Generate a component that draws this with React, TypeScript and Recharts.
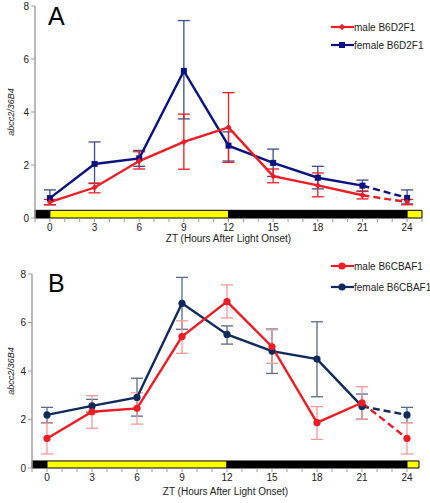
import React from 'react';
import { ComposedChart, Line, XAxis, YAxis, ErrorBar, ReferenceArea } from 'recharts';

// sampling times (ZT hours); 24 repeats the ZT0 sample
const hours = [0, 3, 6, 9, 12, 15, 18, 21, 24];
const hourTicks = [-1, 0, 1, 2, 3, 4, 5, 6, 7, 8, 9, 10, 11, 12, 13, 14, 15, 16, 17, 18, 19, 20, 21, 22, 23, 24, 25];
const yTicks = [0, 2, 4, 6, 8];

// light/dark schedule drawn as the bar along the x axis
const lightPhases = [
  { from: -1, to: 0, light: false },
  { from: 0, to: 12, light: true },
  { from: 12, to: 24, light: false },
  { from: 24, to: 25, light: true },
];

// panel A: B6D2F1
const maleD2Mean = [0.6, 1.15, 2.15, 2.87, 3.42, 1.58, 1.23, 0.86, 0.6];
const maleD2Low = [0.5, 0.95, 1.85, 1.84, 2.1, 1.33, 0.8, 0.72, 0.5];
const maleD2High = [0.7, 1.32, 2.5, 3.92, 4.73, 1.85, 1.7, 1.0, 0.7];
const femaleD2Mean = [0.75, 2.04, 2.25, 5.55, 2.73, 2.08, 1.52, 1.22, 0.76];
const femaleD2Low = [0.5, 1.3, 1.95, 3.74, 2.15, 1.57, 1.1, 1.02, 0.53];
const femaleD2High = [1.06, 2.87, 2.55, 7.45, 3.25, 2.6, 1.95, 1.43, 1.06];

// panel B: B6CBAF1
const maleCBMean = [1.22, 2.32, 2.46, 5.42, 6.86, 5.0, 1.87, 2.69, 1.22];
const maleCBLow = [0.58, 1.64, 1.81, 4.73, 6.19, 4.32, 1.18, 2.0, 0.58];
const maleCBHigh = [1.85, 2.98, 3.1, 6.07, 7.55, 5.7, 2.53, 3.35, 1.87];
const femaleCBMean = [2.19, 2.56, 2.91, 6.79, 5.51, 4.82, 4.49, 2.54, 2.19];
const femaleCBLow = [1.87, 2.3, 2.14, 5.72, 5.11, 3.9, 2.94, 2.01, 1.87];
const femaleCBHigh = [2.5, 2.83, 3.7, 7.86, 5.86, 5.73, 6.03, 3.05, 2.5];

const FONT = '"Liberation Sans", Arial, sans-serif';
const RED = '#ee1c24';

// last segment (21 -> 24) is dashed, so split each series in two
const buildRows = (mMean, mLow, mHigh, fMean, fLow, fHigh) => {
  const last = hours.length - 1;
  return hours.map((zt, i) => ({
    zt,
    m: mMean[i],
    mErr: [mMean[i] - mLow[i], mHigh[i] - mMean[i]],
    mSolid: i < last ? mMean[i] : null,
    mDash: i >= last - 1 ? mMean[i] : null,
    f: fMean[i],
    fErr: [fMean[i] - fLow[i], fHigh[i] - fMean[i]],
    fSolid: i < last ? fMean[i] : null,
    fDash: i >= last - 1 ? fMean[i] : null,
  }));
};

const Marker = ({ cx, cy, shape, color }) => {
  if (cx == null || cy == null) return <g />;
  if (shape === 'diamond') {
    return <path d={`M${cx},${cy - 3.2}L${cx + 3},${cy}L${cx},${cy + 3.2}L${cx - 3},${cy}Z`} fill={color} />;
  }
  if (shape === 'square') {
    return <rect x={cx - 3} y={cy - 3} width={6} height={6} fill={color} />;
  }
  return <circle cx={cx} cy={cy} r={3.6} fill={color} />;
};

function Panel({ letter, rows, height, top, right, yAxisWidth, xAxisHeight, xMax, maleColor, maleErr, femaleColor, femaleErr, maleShape, femaleShape, maleLabel, femaleLabel, legendTop, letterTop }) {
  const lastIndex = hours.length - 1;
  const ticks = hourTicks.filter((t) => t <= xMax);
  const dashDot = (color, shape) => (props) =>
    props.index === lastIndex ? <Marker key={`d${props.index}`} cx={props.cx} cy={props.cy} shape={shape} color={color} /> : <g key={`d${props.index}`} />;
  const solidDot = (color, shape) => (props) => <Marker key={`s${props.index}`} cx={props.cx} cy={props.cy} shape={shape} color={color} />;

  const legendItem = (color, shape, label, y) => (
    <div style={{ position: 'absolute', left: 331, top: y, height: 12, display: 'flex', alignItems: 'center' }}>
      <svg width={23} height={12}>
        <line x1={0} y1={6} x2={23} y2={6} stroke={color} strokeWidth={2.2} />
        <Marker cx={11} cy={6} shape={shape} color={color} />
      </svg>
      <span style={{ fontFamily: FONT, fontSize: 10, color: '#222', whiteSpace: 'nowrap' }}>{label}</span>
    </div>
  );

  return (
    <div style={{ position: 'relative', width: 430, height }}>
      <ComposedChart width={430} height={height} data={rows} margin={{ top, right, left: 0, bottom: 0 }}>
        {lightPhases.map((p) => (
          <ReferenceArea
            key={p.from}
            x1={Math.max(p.from, -1)}
            x2={Math.min(p.to, xMax)}
            y1={0}
            y2={0.29}
            fill={p.light ? '#ffff00' : '#000000'}
            fillOpacity={1}
            stroke="#000"
            strokeWidth={1}
            ifOverflow="visible"
          />
        ))}
        <XAxis
          type="number"
          dataKey="zt"
          domain={[-1, xMax]}
          ticks={ticks}
          interval={0}
          allowDataOverflow
          axisLine={false}
          tickLine={{ stroke: '#999' }}
          tickSize={4}
          tick={{ fontSize: 10, fill: '#222', fontFamily: FONT }}
          tickFormatter={(v) => (hours.includes(v) ? String(v) : '')}
          height={xAxisHeight}
          label={({ viewBox }) => (
            <text x={viewBox.x + viewBox.width / 2} y={viewBox.y + xAxisHeight - 8} textAnchor="middle" fontSize={10} fill="#222" fontFamily={FONT}>
              ZT (Hours After Light Onset)
            </text>
          )}
        />
        <YAxis
          type="number"
          domain={[0, 8]}
          ticks={yTicks}
          interval={0}
          width={yAxisWidth}
          axisLine={{ stroke: '#a0a0a0', strokeWidth: 1.5 }}
          tickLine={{ stroke: '#a0a0a0' }}
          tickSize={4}
          tick={{ fontSize: 10, fill: '#222', fontFamily: FONT }}
          label={({ viewBox }) => {
            const cy = viewBox.y + viewBox.height / 2;
            return (
              <text x={11} y={cy} transform={`rotate(-90, 11, ${cy})`} textAnchor="middle" dominantBaseline="central" fontSize={9} fontStyle="italic" fill="#222" fontFamily={FONT}>
                abcc2/36B4
              </text>
            );
          }}
        />
        <Line dataKey="f" stroke="none" dot={false} activeDot={false} isAnimationActive={false}>
          <ErrorBar dataKey="fErr" width={6} stroke={femaleErr} strokeWidth={1.3} direction="y" />
        </Line>
        <Line dataKey="m" stroke="none" dot={false} activeDot={false} isAnimationActive={false}>
          <ErrorBar dataKey="mErr" width={6} stroke={maleErr} strokeWidth={1.3} direction="y" />
        </Line>
        <Line dataKey="fSolid" type="linear" stroke={femaleColor} strokeWidth={2.4} dot={solidDot(femaleColor, femaleShape)} activeDot={false} isAnimationActive={false} connectNulls={false} />
        <Line dataKey="fDash" type="linear" stroke={femaleColor} strokeWidth={2.4} strokeDasharray="7 4" dot={dashDot(femaleColor, femaleShape)} activeDot={false} isAnimationActive={false} connectNulls={false} />
        <Line dataKey="mSolid" type="linear" stroke={maleColor} strokeWidth={2.4} dot={solidDot(maleColor, maleShape)} activeDot={false} isAnimationActive={false} connectNulls={false} />
        <Line dataKey="mDash" type="linear" stroke={maleColor} strokeWidth={2.4} strokeDasharray="7 4" dot={dashDot(maleColor, maleShape)} activeDot={false} isAnimationActive={false} connectNulls={false} />
      </ComposedChart>
      <div style={{ position: 'absolute', left: 48, top: letterTop, fontFamily: FONT, fontSize: 25, lineHeight: '25px', color: '#000' }}>{letter}</div>
      {legendItem(maleColor, maleShape, maleLabel, legendTop)}
      {legendItem(femaleColor, femaleShape, femaleLabel, legendTop + (letter === 'A' ? 18 : 21))}
    </div>
  );
}

export default function App() {
  const rowsA = buildRows(maleD2Mean, maleD2Low, maleD2High, femaleD2Mean, femaleD2Low, femaleD2High);
  const rowsB = buildRows(maleCBMean, maleCBLow, maleCBHigh, femaleCBMean, femaleCBLow, femaleCBHigh);
  return (
    <div style={{ position: 'absolute', left: 0, top: 0, width: 430, height: 503, background: '#fff' }}>
      <Panel
        letter="A"
        rows={rowsA}
        height={250}
        top={6}
        right={8}
        yAxisWidth={35}
        xAxisHeight={32}
        xMax={25}
        maleColor={RED}
        maleErr={RED}
        femaleColor="#0a1280"
        femaleErr="#3d4d86"
        maleShape="diamond"
        femaleShape="square"
        maleLabel="male B6D2F1"
        femaleLabel="female B6D2F1"
        legendTop={21}
        letterTop={4}
      />
      <Panel
        letter="B"
        rows={rowsB}
        height={253}
        top={24}
        right={11}
        yAxisWidth={32}
        xAxisHeight={35}
        xMax={24.8}
        maleColor={RED}
        maleErr="#f59a9a"
        femaleColor="#102a5c"
        femaleErr="#5a6a8a"
        maleShape="circle"
        femaleShape="circle"
        maleLabel="male B6CBAF1"
        femaleLabel="female B6CBAF1"
        legendTop={10}
        letterTop={21}
      />
    </div>
  );
}
